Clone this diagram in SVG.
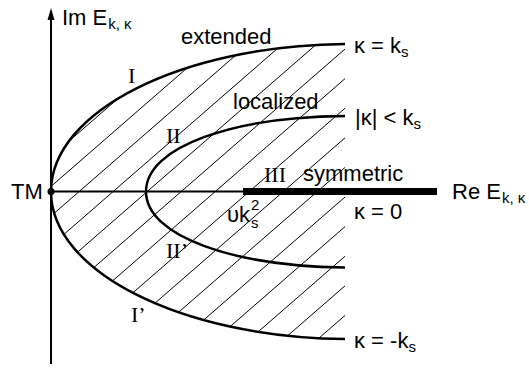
<svg xmlns="http://www.w3.org/2000/svg" width="529" height="368" viewBox="0 0 529 368">
<style>
.lbl{font-family:"Liberation Sans",Arial,Helvetica,sans-serif;font-size:22px;fill:#000}
.sub{font-size:15px}
.rom{font-family:"Liberation Serif","Times New Roman",serif;font-size:22px;fill:#000}
.curve{fill:none;stroke:#000;stroke-width:2.5}
.hatch{fill:none;stroke:#000;stroke-width:1}
.axis{stroke:#000;stroke-width:2;fill:none}
</style>
<defs>
<clipPath id="region">
<path d="M345,44 C181,45.5 51,111.5 51,191.5 C51,271.5 181,337.5 345,339 Z"/>
</clipPath>
</defs>
<g id="hatching" clip-path="url(#region)">
<path class="hatch" d="M350,-133 L40,136.8 M350,-103.4 L40,166.4 M350,-73.8 L40,196 M350,-44.2 L40,225.6 M350,-14.6 L40,255.2 M350,15.1 L40,284.8 M350,44.7 L40,314.4 M350,74.3 L40,344 M350,103.9 L40,373.6 M350,133.5 L40,403.2 M350,163.1 L40,432.8 M350,192.7 L40,462.4 M350,222.3 L40,492 M350,251.9 L40,521.6 M350,281.5 L40,551.2 M350,311.1 L40,580.8"/>
</g>
<g id="axes">
<line class="axis" x1="51" y1="364" x2="51" y2="18"/>
<polygon points="51,8 47.5,20 54.5,20" fill="#000"/>
<line class="axis" x1="51" y1="191.5" x2="245" y2="191.5"/>
<rect x="243" y="188" width="194" height="7" fill="#000"/>
<circle cx="51" cy="191.5" r="3.5" fill="#000"/>
</g>
<g id="curves">
<path id="outer" class="curve" d="M345,44 C181,45.5 51,111.5 51,191.5 C51,271.5 181,337.5 345,339"/>
<path id="inner" class="curve" d="M345,116 C234,116.8 146,146.5 146,191.5 C146,236.5 234,266.2 345,267.5"/>
</g>
<g id="labels">
<text class="lbl" x="62" y="25">Im E<tspan class="sub" dx="1" dy="4">k, κ</tspan></text>
<text class="lbl" x="452" y="199">Re E<tspan class="sub" dx="1" dy="4">k, κ</tspan></text>
<text class="lbl" x="11" y="199">TM</text>
<text class="lbl" x="181" y="44">extended</text>
<text class="lbl" x="233" y="109">localized</text>
<text class="lbl" x="303" y="181">symmetric</text>
<text class="lbl" x="354" y="53">κ = k<tspan class="sub" dy="4">s</tspan></text>
<text class="lbl" x="355" y="125">|κ| &lt; k<tspan class="sub" dy="4">s</tspan></text>
<text class="lbl" x="354" y="219">κ = 0</text>
<text class="lbl" x="354" y="348">κ = -k<tspan class="sub" dy="4">s</tspan></text>
<text class="lbl" x="227" y="222">υk</text>
<text class="lbl sub" x="251" y="228">s</text>
<text class="lbl sub" x="251" y="210">2</text>
<text class="rom" x="128" y="83">I</text>
<text class="rom" x="166" y="143">II</text>
<text class="rom" x="264" y="182">III</text>
<text class="rom" x="166" y="258">II’</text>
<text class="rom" x="131" y="322">I’</text>
</g>
</svg>
